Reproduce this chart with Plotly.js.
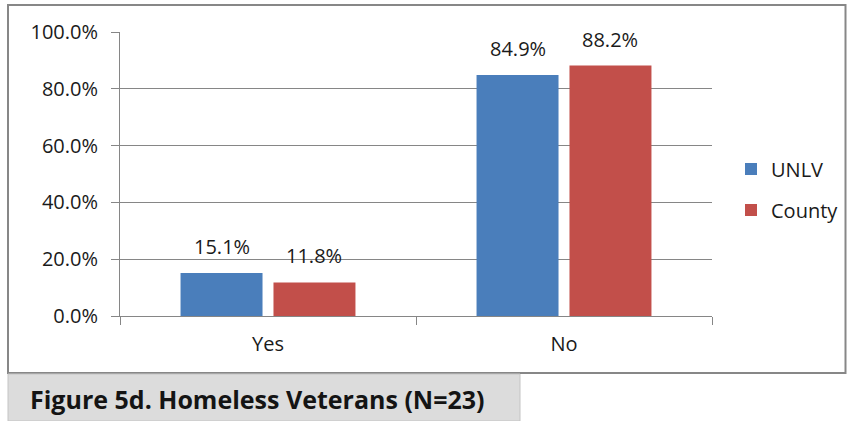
<!DOCTYPE html>
<html>
<head>
<meta charset="utf-8">
<script src="https://cdn.plot.ly/plotly-3.0.1.min.js"></script>
<style>
  html, body { margin: 0; padding: 0; background: #ffffff; }
  #chart { width: 847px; height: 421px; }
</style>
</head>
<body>
<div id="chart"></div>
<script>
// Homeless veterans: share answering Yes / No, UNLV sample vs. county
const categories = ['Yes', 'No'];
const unlvValues = [0.151, 0.849];
const countyValues = [0.118, 0.882];
const seriesNames = ['UNLV', 'County'];
const yTickValues = [0, 0.2, 0.4, 0.6, 0.8, 1.0];
const captionText = 'Figure 5d. Homeless Veterans (N=23)';

const W = 847, H = 421;
const M = { l: 120, r: 135, t: 32, b: 105, autoexpand: false };
const plotW = W - M.l - M.r, plotH = H - M.t - M.b;
// pixel -> paper helpers for frame/caption shapes
const px = v => (v - M.l) / plotW;
const py = v => (H - M.b - v) / plotH;

const FONT = 'Open Sans, Liberation Sans, sans-serif';
const TXT = '#1a1a1a';
const GRID = '#868686';
const BARGAP = 0.372;
const GROUPGAP = 0.118;

const colors = ['#4a7ebb', '#c24f4a'];
const seriesValues = [unlvValues, countyValues];

const traces = seriesValues.map((vals, i) => ({
  type: 'bar',
  name: seriesNames[i],
  x: categories,
  y: vals,
  marker: { color: colors[i], line: { width: 0 } },
  legendgroup: 'g' + i,
  hoverinfo: 'none'
}));

// value labels above each bar, placed at the grouped-bar centres
const slot = (1 - BARGAP) / 2;
const annotations = [];
seriesValues.forEach((vals, i) => {
  vals.forEach((v, j) => {
    annotations.push({
      xref: 'x', yref: 'y',
      x: j + (i - 0.5) * slot,
      y: v,
      text: (v * 100).toFixed(1) + '%',
      showarrow: false,
      yanchor: 'bottom',
      yshift: 11,
      font: { family: FONT, size: 20, color: TXT }
    });
  });
});

annotations.push({
  xref: 'paper', yref: 'paper',
  x: px(28), y: py(399),
  xanchor: 'left', yanchor: 'middle',
  text: '<b>' + captionText + '</b>',
  showarrow: false,
  font: { family: FONT, size: 25, color: '#141414' }
});

const shapes = [
  // outer chart frame
  { type: 'rect', xref: 'paper', yref: 'paper', layer: 'below',
    x0: px(8), x1: px(845.5), y0: py(373), y1: py(5),
    line: { color: '#878787', width: 2 }, fillcolor: 'rgba(0,0,0,0)' },
  // caption panel
  { type: 'rect', xref: 'paper', yref: 'paper', layer: 'below',
    x0: px(8), x1: px(520), y0: py(421), y1: py(374),
    line: { color: '#c4c4c4', width: 1 }, fillcolor: '#dcdcdc' }
];

const layout = {
  width: W, height: H,
  margin: M,
  paper_bgcolor: '#ffffff',
  plot_bgcolor: '#ffffff',
  barmode: 'group',
  bargap: BARGAP,
  bargroupgap: GROUPGAP,
  font: { family: FONT, size: 20, color: TXT },
  showlegend: true,
  legend: {
    x: px(731), y: py(189.5),
    xanchor: 'left', yanchor: 'middle',
    traceorder: 'grouped',
    tracegroupgap: 12,
    font: { family: FONT, size: 20, color: TXT },
    bgcolor: 'rgba(0,0,0,0)',
    borderwidth: 0
  },
  xaxis: {
    type: 'category',
    showline: true, linecolor: GRID, linewidth: 1,
    ticks: 'outside', tickson: 'boundaries', ticklen: 8, tickcolor: GRID,
    ticklabelstandoff: 10,
    tickfont: { family: FONT, size: 20, color: TXT },
    showgrid: false, zeroline: false,
    fixedrange: true
  },
  yaxis: {
    range: [0, 1],
    tickvals: yTickValues,
    tickformat: '.1%',
    showline: true, linecolor: GRID, linewidth: 1,
    ticks: 'outside', ticklen: 8, tickcolor: GRID,
    ticklabelstandoff: 9,
    showgrid: true, gridcolor: GRID, gridwidth: 1,
    zeroline: false,
    tickfont: { family: FONT, size: 20, color: TXT },
    fixedrange: true
  },
  annotations: annotations,
  shapes: shapes
};

Plotly.newPlot('chart', traces, layout, { displayModeBar: false, staticPlot: true });
</script>
</body>
</html>
